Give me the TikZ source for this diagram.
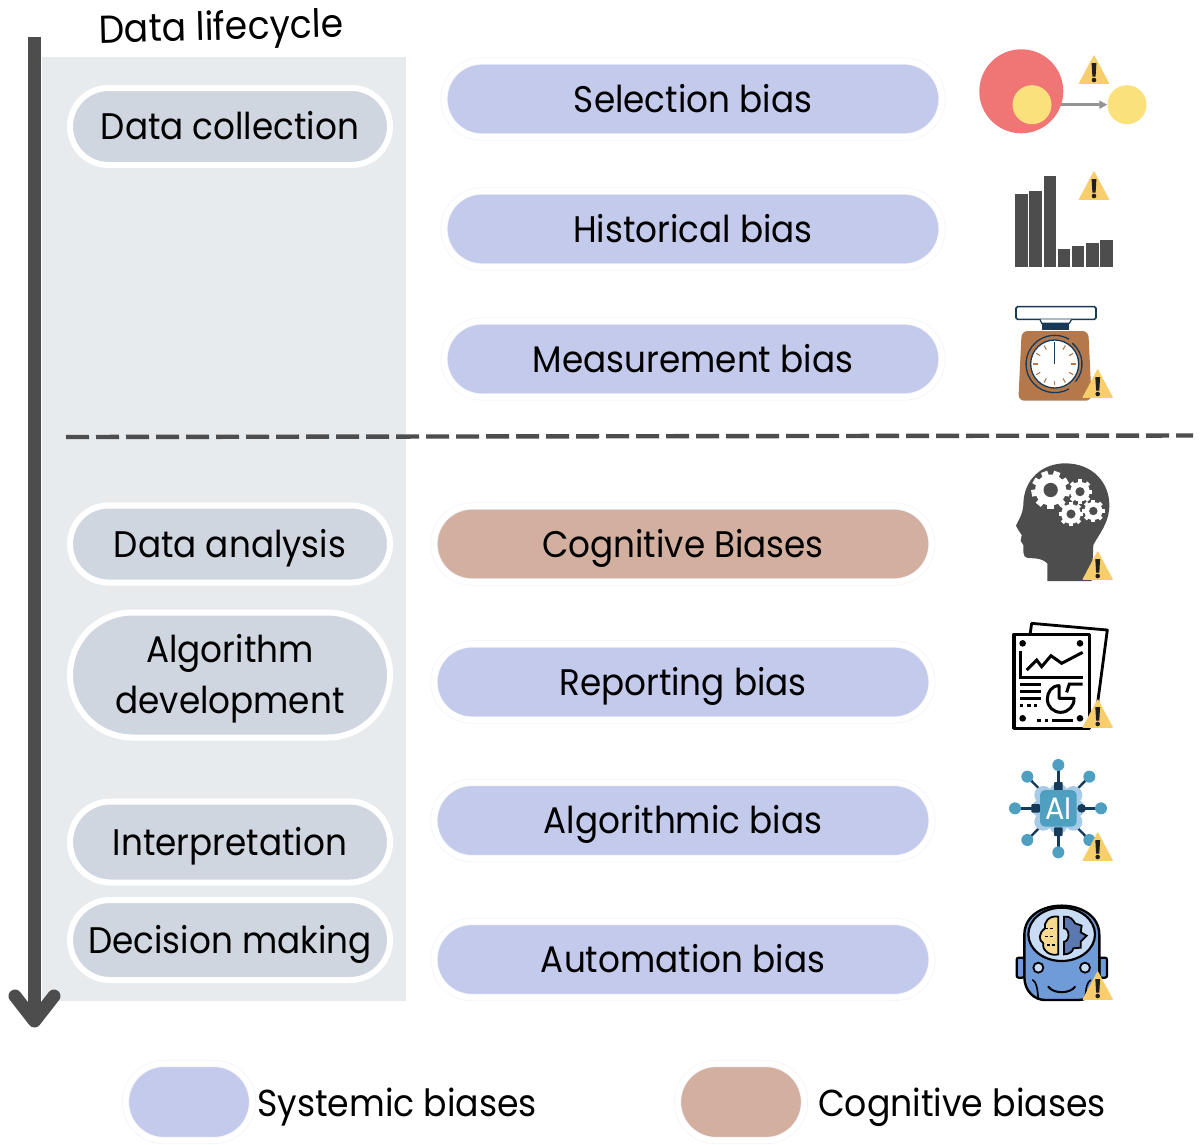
\documentclass[tikz,border=0pt]{standalone}
\usepackage{fontspec}
\setmainfont{Poppins}[FakeStretch=0.925]
\usetikzlibrary{shapes.misc,arrows.meta}
\definecolor{dk}{HTML}{4D4D4D}
\definecolor{bgp}{HTML}{E8EBEE}
\definecolor{stage}{HTML}{CFD6DF}
\definecolor{sysb}{HTML}{C3CAEB}
\definecolor{cogb}{HTML}{D2AF9F}
\definecolor{warnc}{HTML}{F8CD6B}
\definecolor{redc}{HTML}{F07575}
\definecolor{yelc}{HTML}{FBE17C}
\definecolor{brownc}{HTML}{B5784A}
\definecolor{navyc}{HTML}{163A5A}
\definecolor{tealc}{HTML}{4F9FC0}
\definecolor{cloudc}{HTML}{A5CBE6}
\definecolor{robc}{HTML}{6F9BD8}
\definecolor{robl}{HTML}{C8DCF5}
\definecolor{robg}{HTML}{5C78B0}
\definecolor{roby}{HTML}{F6DA8F}
\definecolor{ringc}{HTML}{F3F4FB}
\newcommand{\lbl}{\fontsize{37}{51}\selectfont}
\tikzset{
 x=1pt,y=-1pt,
 fixtext/.style={text height=31pt,text depth=5pt},
 pill/.style={rounded rectangle,minimum height=#1,inner sep=0pt,align=center,font=\lbl,text=black},
 stagebox/.style={pill=77pt,minimum width=320pt,fill=stage,draw=white,line width=6pt,fixtext},
 sysbox/.style={pill=76pt,minimum width=498pt,fill=sysb,draw=ringc,line width=0.8pt,double=white,double distance=5.6pt,fixtext},
 cogbox/.style={sysbox,fill=cogb},
 warn/.pic={
   \fill[warnc,line join=round,draw=warnc,line width=1.2pt] (0,1) -- (-14.5,28.3) -- (14.5,28.3) -- cycle;
   \fill[black!88,line join=round] (-2.4,8) -- (2.4,8) -- (1.6,21.5) -- (-1.6,21.5) -- cycle;
   \fill[black!88] (0,25) circle (2.3);
 }}
\newcommand{\gearshape}[4]{% x y r teeth
 \fill[white] (#1,#2) circle ({0.8*#3});
 \foreach \gi in {1,...,#4}{
  \fill[white,shift={(#1,#2)},rotate={\gi*360/#4}] ({-0.17*#3},0) rectangle ({0.17*#3},#3);}
 \fill[dk] (#1,#2) circle ({0.37*#3});
}
\begin{document}
\begin{tikzpicture}
\useasboundingbox (0,0) rectangle (1200,1144);
\fill[white] (0,0) rectangle (1200,1144);
% panel
\fill[bgp] (42,57) rectangle (406,1001);
% lifecycle arrow
\coordinate (arrowtop) at (34.5,37);
\coordinate (arrowend) at (34.5,1021);
\draw[dk,line width=13pt] (arrowtop) -- (arrowend);
\draw[dk,line width=13pt,line cap=round,line join=round] (15,996) -- (arrowend) -- (54,996);
\node[rotate=1.5,font=\fontsize{39}{51}\selectfont,text=black,inner sep=0pt,fixtext] (title) at (221,27) {Data lifecycle};
% dashed line
\coordinate (dashl) at (66,437);
\coordinate (dashr) at (1193,435.5);
\draw[dk,line width=4.4pt,dash pattern=on 23pt off 7pt] (dashl) -- (dashr);
% stages
\node[stagebox] (s1) at (230,126.5) {Data collection};
\node[stagebox] (s2) at (230,544) {Data analysis};
\node[stagebox,minimum height=125pt,text height=,text depth=] (s3) at (230,675) {};
\node[font=\lbl,text=black,align=center,inner sep=0pt] (s3text) at (230,679) {Algorithm\\development};
\node[stagebox,minimum height=81pt] (s4) at (230,842) {Interpretation};
\node[stagebox,minimum height=80pt] (s5) at (230,940) {Decision making};
% biases
\node[sysbox] (b1) at (693,99) {Selection bias};
\node[sysbox] (b2) at (693,229) {Historical bias};
\node[sysbox] (b3) at (693,359) {Measurement bias};
\node[cogbox] (b4) at (683,544) {Cognitive Biases};
\node[sysbox] (b5) at (683,682) {Reporting bias};
\node[sysbox] (b6) at (683,820.5) {Algorithmic bias};
\node[sysbox] (b7) at (683,959.5) {Automation bias};
% legend
\node[sysbox,minimum width=127pt,minimum height=77pt] (l1) at (189,1102) {};
\node[cogbox,minimum width=127pt,minimum height=77pt] (l2) at (741,1102) {};
\node[anchor=west,font=\fontsize{37.5}{51}\selectfont,inner sep=0pt,fixtext] (t1) at (257,1103) {Systemic biases};
\node[anchor=west,font=\fontsize{37.5}{51}\selectfont,inner sep=0pt,fixtext] (t2) at (818,1103) {Cognitive biases};
% selection icon
\node[circle,fill=redc,minimum size=84pt,inner sep=0pt] (big) at (1021.3,91.3) {};
\node[circle,fill=yelc,minimum size=39pt,inner sep=0pt] (inn) at (1032,104.7) {};
\node[circle,fill=yelc,minimum size=39pt,inner sep=0pt] (out) at (1127,104.7) {};
\coordinate (selstart) at (1061,104.7);
\draw[gray!85,line width=2.5pt,-{Triangle[length=8pt,width=8pt]}] (selstart) -- (out.west);
\pic at (1094,55) {warn};
% bars
\foreach \xa/\xb/\yt in {1015/1027.7/194.3,1029.3/1042/191.3,1043.7/1056/176,1057.7/1070.3/249,1072/1084.3/246,1086/1098.7/243,1100.3/1112.7/240}
 \fill[dk] (\xa,\yt) rectangle (\xb,267.3);
\pic at (1094,171) {warn};
% scale
\begin{scope}[shift={(990,295)},scale=1/3]
 \fill[white,draw=navyc,line width=1.6pt,rounded corners=1.5pt] (78,35) rectangle (318,73);
 \fill[white,draw=navyc,line width=1.2pt] (150,73) -- (155,85) -- (238,85) -- (245,73);
 \fill[navyc] (155,85) rectangle (238,106);
 \fill[brownc,rounded corners=6pt] (95,108) -- (295,108) -- (305,317) -- (85,317) -- cycle;
 \draw[navyc,line width=1.3pt] (194,207) ++(60:86) arc (60:300:86);
 \draw[navyc,line width=1.3pt] (194,207) ++(-50:82) arc (-50:40:82);
 \fill[white,draw=navyc,line width=1.3pt] (194,207) circle (72);
 \foreach \a in {0,30,...,330}
  \draw[brownc,line width=1.1pt] (194,207) ++(\a:50) -- ++(\a:14);
 \draw[navyc,line width=1pt] (194,207) -- (194,142);
\end{scope}
\pic at (1097.7,369) {warn};
% head
\begin{scope}[shift={(990,455)},scale=1/3]
 \fill[dk] (172,378) -- (172,325) .. controls (150,305) and (125,312) .. (110,308)
  .. controls (98,305) and (100,285) .. (100,270) -- (92,258) -- (95,240) -- (85,225) -- (78,212)
  .. controls (85,195) and (98,180) .. (100,150)
  .. controls (100,70) and (160,25) .. (225,25)
  .. controls (310,25) and (358,85) .. (358,150)
  .. controls (358,205) and (325,240) .. (310,270)
  -- (305,378) -- cycle;
 \gearshape{182}{105}{58}{9}
 \gearshape{270}{110}{37}{8}
 \gearshape{243}{177}{37}{8}
 \gearshape{310}{168}{34}{8}
\end{scope}
\pic at (1097.7,551) {warn};
% report
\begin{scope}[shift={(990,615)},scale=1/3,line cap=butt]
 \draw[black,line width=2.8pt,line join=round] (120,60) -- (125,25) -- (352,45) -- (318,300);
 \fill[white,draw=black,line width=3.2pt,line join=round] (72,58) rectangle (298,340);
 \foreach \px/\py in {98/85,270/85,98/310,270/310} \fill[black] (\px,\py) circle (10);
 \draw[black,line width=3pt] (92,108) -- (92,187) -- (280,187);
 \draw[black,line width=3pt] (110,165) -- (140,135) -- (155,155) -- (183,122) -- (215,145) -- (278,112);
 \draw[black,line width=3pt] (90,207) -- (152,207) (90,228) -- (152,228) (90,250) -- (152,250);
 \draw[black,line width=3pt] (90,272) -- (100,272) (112,272) -- (122,272) (132,272) -- (142,272);
 \draw[black,line width=3pt,line join=round] (207,212) .. controls (185,212) and (172,232) .. (172,252)
   .. controls (172,275) and (190,292) .. (212,292) .. controls (235,292) and (254,272) .. (252,250) -- (207,250) -- cycle;
 \draw[black,line width=3pt] (230,232) -- (238,207) -- (278,207);
 \draw[black,line width=3pt] (142,315) -- (152,315) (165,315) -- (175,315) (185,315) -- (248,315);
\end{scope}
\pic at (1097.7,699) {warn};
% AI
\begin{scope}[shift={(990,760)},scale=1/3]
 \foreach \px/\py in {205/15,298/50,333/145,298/240,205/277,112/240,75/145,112/50}{
   \draw[navyc,line width=2.4pt] (205,145) -- (\px,\py);
   \fill[tealc] (\px,\py) circle (18);
 }
 \foreach \cx/\cy in {160/105,205/97,250/105,153/145,257/145,160/185,205/195,250/185} \fill[cloudc] (\cx,\cy) circle (27);
 \fill[navyc,rounded corners=1pt] (192,66) rectangle (218,92);
 \fill[navyc,rounded corners=1pt] (192,202) rectangle (218,228);
 \fill[navyc,rounded corners=1pt] (124,132) rectangle (150,158);
 \fill[navyc] (275,145) circle (13);
 \fill[tealc,rounded corners=5pt] (150,90) rectangle (260,200);
\end{scope}
\node[text=white,font=\fontsize{31}{32}\selectfont,inner sep=0pt] (aitext) at (1058.3,809) {AI};
\pic at (1097.7,832) {warn};
% robot
\begin{scope}[shift={(990,895)},scale=1/3]
 \fill[robc,draw=black,line width=2.2pt,rounded corners=2pt] (103,188) -- (80,188) -- (80,248) -- (103,248) -- cycle;
 \fill[robc,draw=black,line width=2.2pt,rounded corners=2pt] (328,188) -- (351,188) -- (351,248) -- (328,248) -- cycle;
 \fill[robc,draw=black,line width=2.4pt] (103,120) .. controls (103,60) and (160,32) .. (215,32)
   .. controls (270,32) and (328,60) .. (328,120) -- (328,245) .. controls (328,290) and (295,315) .. (265,315)
   -- (165,315) .. controls (135,315) and (103,290) .. (103,245) -- cycle;
 \fill[robl,draw=black,line width=2.2pt] (215,118) ellipse (100 and 80);
 \fill[roby,draw=black,line width=1.8pt] (205,65) .. controls (175,60) and (160,85) .. (165,100)
   .. controls (145,115) and (145,135) .. (160,145) .. controls (155,165) and (180,185) .. (205,178) -- cycle;
 \draw[black,line width=1.4pt,dash pattern=on 3pt off 2pt] (165,100) -- (195,100) (165,125) -- (195,125) (170,150) -- (195,150);
 \fill[robg,draw=black,line width=1.8pt] (222,65) .. controls (240,62) and (250,75) .. (255,85)
   -- (275,92) -- (272,112) -- (290,122) -- (272,140) -- (272,158) -- (250,160)
   .. controls (248,172) and (235,178) .. (222,178) -- (222,140) .. controls (240,140) and (240,100) .. (222,100) -- cycle;
 \fill[robl,draw=black,line width=1.8pt] (145,218) circle (15);
 \fill[robl,draw=black,line width=1.8pt] (285,218) circle (15);
 \draw[black,line width=2pt,line cap=round] (175,275) .. controls (190,297) and (240,297) .. (255,275);
 \draw[black,line width=1.6pt,line cap=round] (128,255) .. controls (140,262) and (142,280) .. (145,312);
 \draw[black,line width=1.6pt,line cap=round] (302,255) .. controls (290,262) and (288,280) .. (285,312);
\end{scope}
\pic at (1097.7,971) {warn};
\end{tikzpicture}
\end{document}
